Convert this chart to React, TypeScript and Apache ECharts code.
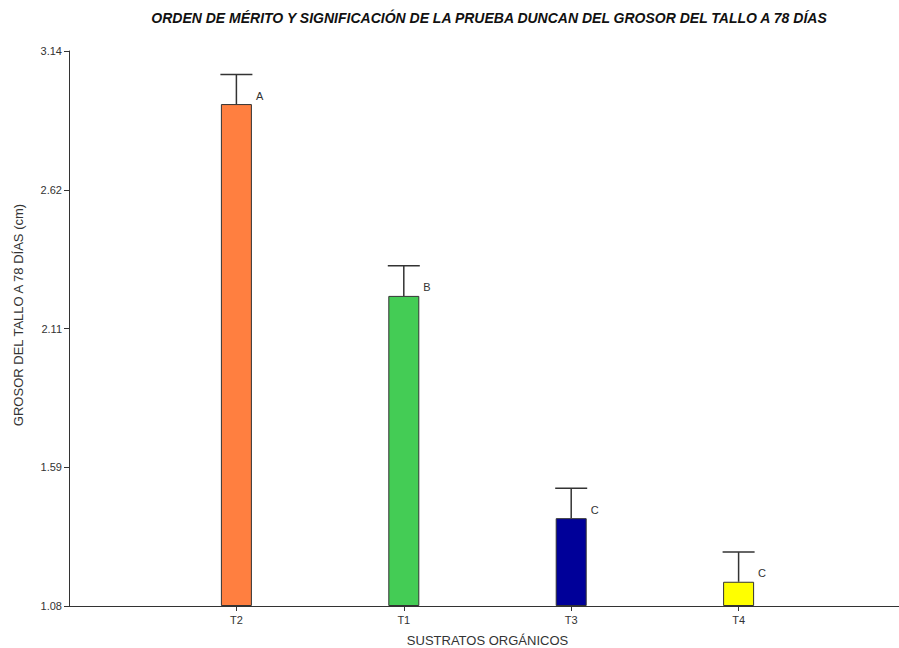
import React, { useEffect, useRef } from "react";
import * as echarts from "echarts";

const titleText = "ORDEN DE MÉRITO Y SIGNIFICACIÓN DE LA PRUEBA DUNCAN DEL GROSOR DEL TALLO A 78 DÍAS";
const yAxisTitle = "GROSOR DEL TALLO A 78 DÍAS (cm)";
const xAxisTitle = "SUSTRATOS ORGÁNICOS";

const categories = ["T2", "T1", "T3", "T4"];
const means = [2.943, 2.231, 1.406, 1.17];
const errors = [0.11, 0.112, 0.111, 0.11];
const groups = ["A", "B", "C", "C"];
const barColors = ["#FF7F40", "#44CC55", "#000099", "#FFFF00"];

const yTickValues = [1.08, 1.595, 2.11, 2.625, 3.14];
const yTickLabels = ["1.08", "1.59", "2.11", "2.62", "3.14"];

const FONT = "Liberation Sans, Arial, sans-serif";

export default function App() {
  const ref = useRef<HTMLDivElement>(null);
  useEffect(() => {
    document.body.style.margin = "0";
    if (!ref.current) return;
    const chart = echarts.init(ref.current, null, { renderer: "svg" });
    const axisCats = ["", ...categories, ""];
    const inner = (i: number) => i > 0 && i < axisCats.length - 1;
    chart.setOption({
      animation: false,
      backgroundColor: "#ffffff",
      textStyle: { fontFamily: FONT },
      graphic: [
        {
          type: "text",
          x: 489,
          y: 18,
          style: {
            text: titleText,
            fill: "#111",
            font: "italic bold 14px " + FONT,
            textAlign: "center",
            textVerticalAlign: "middle",
          },
        },
        {
          type: "text",
          x: 18,
          y: 315,
          rotation: Math.PI / 2,
          style: {
            text: yAxisTitle,
            fill: "#333",
            font: "13px " + FONT,
            textAlign: "center",
            textVerticalAlign: "middle",
          },
        },
      ],
      grid: { left: 69, right: -7, top: 51, bottom: 42, containLabel: false, outerBoundsMode: "none" },
      xAxis: {
        type: "category",
        data: axisCats,
        boundaryGap: false,
        name: xAxisTitle,
        nameLocation: "middle",
        nameGap: 28,
        nameTextStyle: { fontSize: 13, color: "#333", fontFamily: FONT },
        axisLine: { lineStyle: { color: "#333", width: 1 } },
        axisTick: { length: 5, lineStyle: { color: "#333" }, interval: (i: number) => inner(i) },
        axisLabel: { fontSize: 11, color: "#333", margin: 8, interval: (i: number) => inner(i), fontFamily: FONT },
        splitLine: { show: false },
      },
      yAxis: {
        type: "value",
        min: 1.08,
        max: 3.14,
        startValue: 1.08,
        axisLine: { show: true, lineStyle: { color: "#333", width: 1 } },
        axisTick: { show: true, length: 5, lineStyle: { color: "#333" }, customValues: yTickValues },
        axisLabel: {
          fontSize: 11,
          color: "#333",
          margin: 7,
          fontFamily: FONT,
          customValues: yTickValues,
          formatter: (v: number) => {
            const k = yTickValues.findIndex((t) => Math.abs(t - v) < 1e-6);
            return k >= 0 ? yTickLabels[k] : "";
          },
        },
        splitLine: { show: false },
      },
      series: [
        {
          type: "bar",
          barWidth: 31,
          clip: true,
          data: means.map((v, i) => ({
            value: [i + 1, v],
            itemStyle: { color: barColors[i], borderColor: "#333", borderWidth: 1 },
            label: {
              show: true,
              formatter: groups[i],
              position: [35, -14],
              fontSize: 11,
              color: "#333",
              fontFamily: FONT,
            },
          })),
        },
        {
          type: "custom",
          data: means.map((v, i) => [i + 1, v, v + errors[i]]),
          renderItem: (params: any, api: any) => {
            const x = api.value(0);
            const lo = api.coord([x, api.value(1)]);
            const hi = api.coord([x, api.value(2)]);
            const half = 16;
            const style = { stroke: "#333", lineWidth: 1.5 };
            return {
              type: "group",
              children: [
                { type: "line", shape: { x1: lo[0], y1: lo[1], x2: hi[0], y2: hi[1] }, style },
                { type: "line", shape: { x1: hi[0] - half, y1: hi[1], x2: hi[0] + half, y2: hi[1] }, style },
              ],
            };
          },
          z: 3,
        },
      ],
    });
    return () => chart.dispose();
  }, []);
  return <div ref={ref} style={{ width: 899, height: 648 }} />;
}
